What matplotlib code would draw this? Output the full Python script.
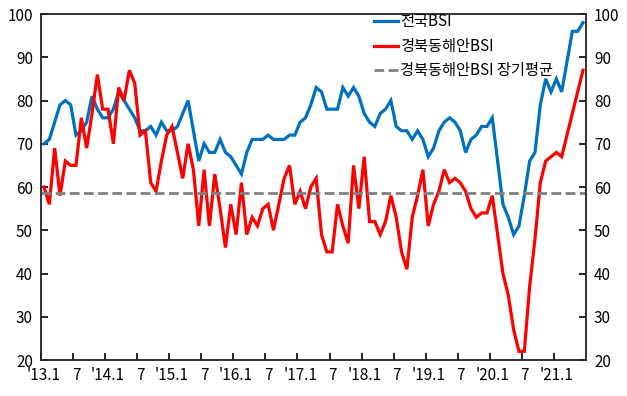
import numpy as np
import matplotlib.pyplot as plt

plt.rcParams['font.family'] = ['Noto Sans CJK KR', 'DejaVu Sans']

# monthly data, 2013.1 ~ 2021.6
national_bsi = [70, 71, 75, 79, 80, 79, 72, 73, 75, 81, 78, 76,
                76, 78, 82, 80, 78, 76, 73, 73, 74, 72, 75, 73,
                73, 74, 77, 80, 73, 66, 70, 68, 68, 71, 68, 67,
                65, 63, 68, 71, 71, 71, 72, 71, 71, 71, 72, 72,
                75, 76, 79, 83, 82, 78, 78, 78, 83, 81, 83, 81,
                77, 75, 74, 77, 78, 80, 74, 73, 73, 71, 73, 71,
                67, 69, 73, 75, 76, 75, 73, 68, 71, 72, 74, 74,
                76, 66, 56, 53, 49, 51, 58, 66, 68, 79, 85, 82,
                85, 82, 89, 96, 96, 98]
east_coast_bsi = [60, 56, 69, 58, 66, 65, 65, 76, 69, 77, 86, 78,
                  78, 70, 83, 80, 87, 84, 72, 73, 61, 59, 66, 72,
                  74, 68, 62, 70, 64, 51, 64, 51, 63, 55, 46, 56,
                  49, 61, 49, 53, 51, 55, 56, 50, 56, 62, 65, 56,
                  59, 55, 60, 62, 49, 45, 45, 56, 51, 47, 65, 55,
                  67, 52, 52, 49, 52, 58, 53, 45, 41, 53, 58, 64,
                  51, 56, 59, 64, 61, 62, 61, 59, 55, 53, 54, 54,
                  58, 49, 40, 35, 27, 22, 22, 37, 48, 61, 66, 67,
                  68, 67, 72, 77, 82, 87]
long_term_avg = 58.6
x_labels = ["'13.1", "7", "'14.1", "7", "'15.1", "7", "'16.1", "7", "'17.1", "7",
            "'18.1", "7", "'19.1", "7", "'20.1", "7", "'21.1"]

x = np.arange(len(national_bsi))

fig = plt.figure(figsize=(6.27, 3.96), dpi=100)
ax = fig.add_axes([0.0659, 0.0909, 0.8682, 0.8737])

ax.plot(x, national_bsi, color='#0070C0', lw=2.3, label='전국BSI', solid_joinstyle='miter')
ax.plot(x, east_coast_bsi, color='#FF0000', lw=2.3, label='경북동해안BSI', solid_joinstyle='miter')
ax.plot([-0.5, len(x) - 0.5], [long_term_avg, long_term_avg], color='#808080', lw=2,
        linestyle=(0, (3.5, 1.6)), label='경북동해안BSI 장기평균')

ax.set_xlim(-0.5, len(x) - 0.5)
ax.set_ylim(20, 100)
ax.set_yticks(range(20, 101, 10))

# labels at month centers, tick marks between categories
label_pos = np.arange(0, len(x), 6)[:len(x_labels)]
ax.set_xticks(label_pos)
ax.set_xticklabels(x_labels)
ax.set_xticks(label_pos - 0.5, minor=True)
ax.tick_params(axis='x', which='major', length=0, labelsize=11, pad=5)
ax.tick_params(axis='x', which='minor', direction='in', length=5, width=1.2)
ax.tick_params(axis='y', direction='in', length=5, width=1.2, labelsize=11,
               right=True, labelright=True, pad=6)

for s in ax.spines.values():
    s.set_linewidth(1.3)
    s.set_color('#222222')

ax.legend(loc='upper left', bbox_to_anchor=(0.6, 1.02), frameon=False, fontsize=11,
          handlelength=1.55, handletextpad=0.15, labelspacing=0.5, borderaxespad=0.0)

fig.savefig('out.png', dpi=100)
